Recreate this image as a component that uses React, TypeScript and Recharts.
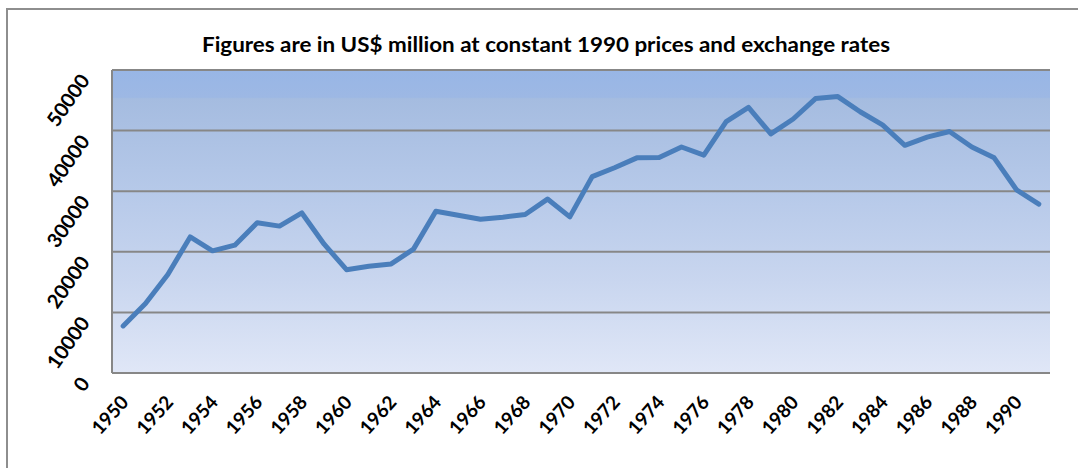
import React from 'react';
import { LineChart, Line, XAxis, YAxis, CartesianGrid } from 'recharts';

const years = [
  '1950','1951','1952','1953','1954','1955','1956','1957','1958','1959',
  '1960','1961','1962','1963','1964','1965','1966','1967','1968','1969',
  '1970','1971','1972','1973','1974','1975','1976','1977','1978','1979',
  '1980','1981','1982','1983','1984','1985','1986','1987','1988','1989',
  '1990','1991',
];
const values = [
  7770, 11470, 16250, 22450, 20160, 21090, 24780, 24240, 26410, 21250,
  17050, 17600, 18000, 20440, 26690, 26040, 25380, 25710, 26150, 28700,
  25760, 32400, 33870, 35500, 35550, 37290, 35940, 41480, 43820, 39460,
  41910, 45290, 45610, 43110, 40930, 37570, 38920, 39850, 37290, 35500,
  30230, 27880,
];
const yTicks = [0, 10000, 20000, 30000, 40000, 50000];
const title = 'Figures are in US$ million at constant 1990 prices and exchange rates';

const data = years.map((y, i) => ({ year: y, value: values[i] }));

const FONT = 'Lato, "Open Sans", sans-serif';
const GRAY = '#878787';

const YTick = (props: any) => {
  const { y, payload } = props;
  const ax = 84;
  const ay = y + 6;
  return (
    <text
      x={ax}
      y={ay}
      transform={`rotate(-55 ${ax} ${ay})`}
      textAnchor="end"
      dominantBaseline="central"
      fontFamily={FONT}
      fontWeight={700}
      fontSize={20}
      fill="#000"
    >
      {payload.value}
    </text>
  );
};

const XTick = (props: any) => {
  const { x, payload } = props;
  const ax = x + 1;
  const ay = 398;
  return (
    <text
      x={ax}
      y={ay}
      transform={`rotate(-48 ${ax} ${ay})`}
      textAnchor="end"
      dominantBaseline="central"
      fontFamily={FONT}
      fontWeight={700}
      fontSize={19}
      fill="#000"
    >
      {payload.value}
    </text>
  );
};

export default function App() {
  return (
    <div
      style={{
        position: 'absolute',
        left: 0,
        top: 0,
        width: 1078,
        height: 468,
        overflow: 'hidden',
        background: '#fff',
      }}
    >
      <div
        style={{
          position: 'absolute',
          left: 6,
          top: 8,
          width: 1200,
          height: 600,
          border: '2px solid #8E8E8E',
          boxSizing: 'border-box',
        }}
      />
      <svg
        width={1078}
        height={70}
        style={{ position: 'absolute', left: 0, top: 0 }}
      >
        <text
          x={546}
          y={52}
          textAnchor="middle"
          fontFamily={FONT}
          fontWeight={700}
          fontSize={20}
          textLength={688}
          lengthAdjust="spacingAndGlyphs"
          fill="#000"
        >
          {title}
        </text>
      </svg>
      <div style={{ position: 'absolute', left: 0, top: 0 }}>
        <LineChart
          width={1078}
          height={468}
          data={data}
          margin={{ top: 70, right: 28, bottom: 0, left: 0 }}
        >
          <defs>
            <linearGradient id="bg" x1="0" y1="0" x2="0" y2="1">
              <stop offset="0" stopColor="#98B6E6" />
              <stop offset="0.09" stopColor="#9DB8E4" />
              <stop offset="0.095" stopColor="#A5BCE0" />
              <stop offset="0.4" stopColor="#B6C9E9" />
              <stop offset="0.7" stopColor="#C9D6EF" />
              <stop offset="1" stopColor="#E0E7F7" />
            </linearGradient>
          </defs>
          <CartesianGrid
            vertical={false}
            stroke={GRAY}
            strokeWidth={2}
            fill="url(#bg)"
            fillOpacity={1}
          />
          <XAxis
            dataKey="year"
            scale="band"
            interval={1}
            height={95}
            tickLine={false}
            axisLine={{ stroke: GRAY, strokeWidth: 2 }}
            tick={<XTick />}
          />
          <YAxis
            width={112}
            domain={[0, 50000]}
            ticks={yTicks}
            tickLine={false}
            axisLine={{ stroke: GRAY, strokeWidth: 2 }}
            tick={<YTick />}
          />
          <Line
            type="linear"
            dataKey="value"
            stroke="#4A7EBB"
            strokeWidth={5}
            dot={false}
            strokeLinecap="round"
            strokeLinejoin="round"
            isAnimationActive={false}
          />
        </LineChart>
      </div>
    </div>
  );
}
